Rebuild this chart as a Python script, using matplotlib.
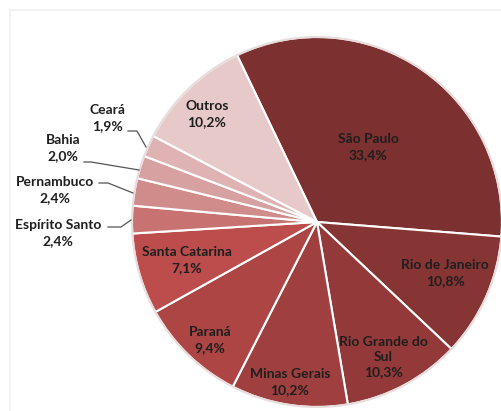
import matplotlib.pyplot as plt
from matplotlib.patches import Circle

plt.rcParams['font.family'] = ['Lato', 'DejaVu Sans']

estados = ["São Paulo", "Rio de Janeiro", "Rio Grande do\nSul", "Minas Gerais",
           "Paraná", "Santa Catarina", "Espírito Santo", "Pernambuco",
           "Bahia", "Ceará", "Outros"]
valores = [33.4, 10.8, 10.3, 10.2, 9.4, 7.1, 2.4, 2.4, 2.0, 1.9, 10.2]
cores = ["#7c3030", "#873434", "#933939", "#a03f3f", "#ad4545", "#bd4c4c",
         "#c87272", "#d08b8b", "#d8a1a1", "#dfb3b3", "#e8c9c9"]

# posicoes dos rotulos em pixels (x, y a partir do topo)
pos_rotulos = [(368, 147), (445, 273), (383, 357), (290, 382), (210, 340),
               (187, 260), (58, 233), (55, 190), (63, 148), (107, 118), (207, 114)]
# linhas de chamada para as fatias pequenas
chamadas = {
    6: [(108, 227), (121, 227), (131, 220)],
    7: [(99, 183), (108, 183), (133, 193)],
    8: [(84, 162), (91, 162), (139, 170)],
    9: [(128, 131), (137, 131), (146, 147)],
}

W, H = 502, 411
cx, cy, R = 317, 222, 185


def px(x, y):
    return (x - cx) / R, (cy - y) / R


fig = plt.figure(figsize=(W / 100, H / 100), dpi=100)
ax = fig.add_axes([0, 0, 1, 1])

# moldura clara
fig.add_artist(plt.Line2D([10 / W, 10 / W], [0, 1 - 10 / H], color="#f0f0f0", lw=1.2))
fig.add_artist(plt.Line2D([10 / W, 1], [1 - 10 / H, 1 - 10 / H], color="#f0f0f0", lw=1.2))

ax.pie(valores, colors=cores, startangle=115.6, counterclock=False, radius=1,
       wedgeprops=dict(edgecolor="white", linewidth=1.5))
ax.add_patch(Circle((0, 0), 1, fill=False, edgecolor="#e8dcdc", lw=1.5))

for i, nome in enumerate(estados):
    x, y = px(*pos_rotulos[i])
    txt = f"{nome}\n{valores[i]:.1f}%".replace(".", ",")
    ax.text(x, y, txt, ha="center", va="center", fontsize=10, fontweight="bold",
            color="#1e1e1e", linespacing=1.35)
    if i in chamadas:
        pts = [px(*p) for p in chamadas[i]]
        ax.plot([p[0] for p in pts], [p[1] for p in pts], color="#555555", lw=0.9)

ax.set_xlim(-cx / R, (W - cx) / R)
ax.set_ylim(-(H - cy) / R, cy / R)
ax.set_aspect('equal')
ax.axis('off')

fig.savefig("out.png", dpi=100)
